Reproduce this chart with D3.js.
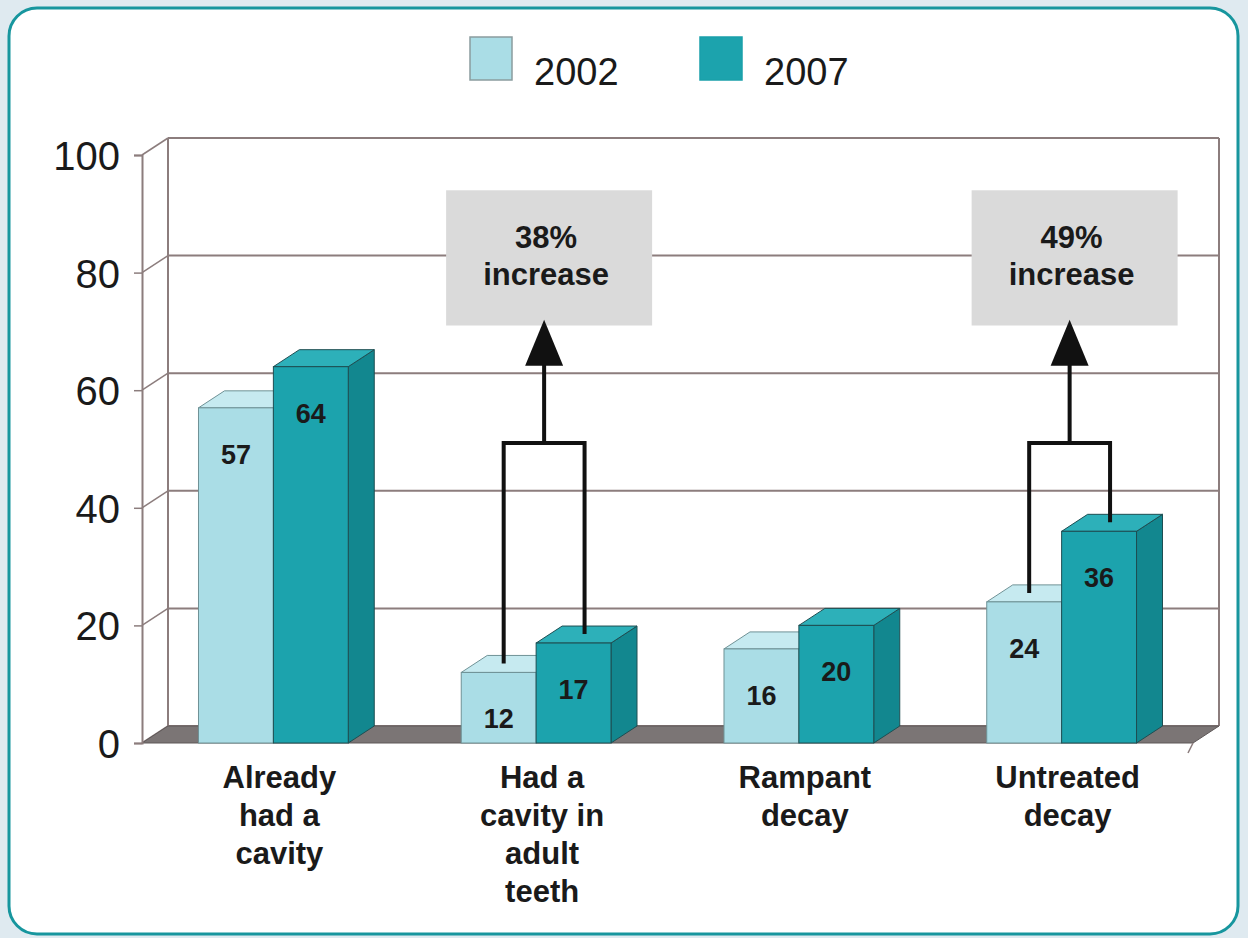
<!DOCTYPE html>
<html>
<head>
<meta charset="utf-8">
<script src="https://cdn.jsdelivr.net/npm/d3@7"></script>
<style>
  body { margin: 0; background: #dfeaf0; }
  svg { display: block; }
  text { font-family: "Liberation Sans", Arial, sans-serif; fill: #1a1a1a; }
</style>
</head>
<body>
<div id="chart"></div>
<script>
var categories = [["Already", "had a", "cavity"], ["Had a", "cavity in", "adult", "teeth"], ["Rampant", "decay"], ["Untreated", "decay"]];
var catKeys = categories.map(function(d) { return d.join(" "); });
var years = ["2002", "2007"];
var values2002 = [57, 12, 16, 24];
var values2007 = [64, 17, 20, 36];
var yTicks = [0, 20, 40, 60, 80, 100];
var notes = [{cat: 1, text: ["38%", "increase"]}, {cat: 3, text: ["49%", "increase"]}];

var W = 1248, H = 938;
var dx = 26, dy = -17;
var colors = {
  "2002": {front: "#aadde6", top: "#c6eaf0", side: "#8fcfd9", stroke: "#6f9296"},
  "2007": {front: "#1ca3ad", top: "#2db0b9", side: "#12878f", stroke: "#1e4e52"}
};

var svg = d3.select("#chart").append("svg")
  .attr("width", W).attr("height", H);

// card
svg.append("rect")
  .attr("x", 9).attr("y", 8).attr("width", 1229).attr("height", 926)
  .attr("rx", 28).attr("fill", "#fff")
  .attr("stroke", "#17969e").attr("stroke-width", 3);

var y = d3.scaleLinear().domain([0, 100]).range([743, 155]);
var x0 = d3.scaleBand().domain(catKeys).range([142, 1193])
  .paddingInner(0.43).paddingOuter(0.215);
var x1 = d3.scaleBand().domain(years).range([0, x0.bandwidth()]);

var gridColor = "#8c7d7d";

// back wall gridlines
var grid = svg.append("g");
grid.selectAll("line.back")
  .data(yTicks)
  .enter()
  .append("line")
    .attr("x1", 142 + dx).attr("x2", 1193 + dx)
    .attr("y1", function(d) { return y(d) + dy; })
    .attr("y2", function(d) { return y(d) + dy; })
    .attr("stroke", gridColor).attr("stroke-width", 2);
grid.selectAll("line.side")
  .data(yTicks)
  .enter()
  .append("line")
    .attr("x1", 142).attr("x2", 142 + dx)
    .attr("y1", function(d) { return y(d); })
    .attr("y2", function(d) { return y(d) + dy; })
    .attr("stroke", gridColor).attr("stroke-width", 1.5);
grid.append("line")
  .attr("x1", 142 + dx).attr("x2", 142 + dx)
  .attr("y1", y(100) + dy).attr("y2", y(0) + dy)
  .attr("stroke", gridColor).attr("stroke-width", 2);
grid.append("line")
  .attr("x1", 1193 + dx).attr("x2", 1193 + dx)
  .attr("y1", y(100) + dy).attr("y2", y(0) + dy)
  .attr("stroke", gridColor).attr("stroke-width", 2);

// floor
svg.append("path")
  .attr("d", "M142," + y(0) + "L1193," + y(0) + "L" + (1193 + dx) + "," + (y(0) + dy) +
    "L" + (142 + dx) + "," + (y(0) + dy) + "Z")
  .attr("fill", "#7b7575").attr("stroke", "#5e5858").attr("stroke-width", 1);

// front y axis
var yAxis = svg.append("g")
  .attr("transform", "translate(142,0)")
  .call(d3.axisLeft(y).tickValues(yTicks).tickSize(8).tickPadding(14));
yAxis.select(".domain").attr("stroke", gridColor).attr("stroke-width", 2);
yAxis.selectAll(".tick line").attr("stroke", gridColor).attr("stroke-width", 1.5);
yAxis.selectAll("text")
  .style("font-size", "40px").style("font-family", "Liberation Sans, Arial, sans-serif")
  .attr("fill", "#1a1a1a").attr("dy", "0.36em");

svg.append("line")
  .attr("x1", 1193).attr("x2", 1188).attr("y1", y(0)).attr("y2", y(0) + 10)
  .attr("stroke", gridColor).attr("stroke-width", 1.5);

// bars
var rows = [];
catKeys.forEach(function(c, i) {
  rows.push({cat: c, year: "2002", value: values2002[i]});
  rows.push({cat: c, year: "2007", value: values2007[i]});
});

var bars = svg.append("g");
rows.forEach(function(d) {
  var xl = x0(d.cat) + x1(d.year), xr = xl + x1.bandwidth();
  var yt = y(d.value), yb = y(0);
  var c = colors[d.year];
  var g = bars.append("g");
  g.append("path")
    .attr("d", "M" + xr + "," + yt + "L" + (xr + dx) + "," + (yt + dy) + "L" + (xr + dx) + "," + (yb + dy) +
      "L" + xr + "," + yb + "Z")
    .attr("fill", c.side).attr("stroke", c.stroke).attr("stroke-width", 1);
  g.append("path")
    .attr("d", "M" + xl + "," + yt + "L" + (xl + dx) + "," + (yt + dy) + "L" + (xr + dx) + "," + (yt + dy) +
      "L" + xr + "," + yt + "Z")
    .attr("fill", c.top).attr("stroke", c.stroke).attr("stroke-width", 1);
  g.append("rect")
    .attr("x", xl).attr("y", yt).attr("width", xr - xl).attr("height", yb - yt)
    .attr("fill", c.front).attr("stroke", c.stroke).attr("stroke-width", 1);
  g.append("text")
    .attr("x", (xl + xr) / 2).attr("y", yt + 56)
    .attr("text-anchor", "middle")
    .style("font-size", "27px").style("font-weight", "bold")
    .text(d.value);
});

// x labels
var xl = svg.append("g");
categories.forEach(function(lines, i) {
  var t = xl.append("text")
    .attr("x", x0(catKeys[i]) + x0.bandwidth() / 2 + 6)
    .attr("y", 788)
    .attr("text-anchor", "middle")
    .style("font-size", "31px").style("font-weight", "bold");
  lines.forEach(function(s, j) {
    t.append("tspan").attr("x", x0(catKeys[i]) + x0.bandwidth() / 2 + 6)
      .attr("dy", j === 0 ? 0 : 38).text(s);
  });
});

// legend
var legend = svg.append("g");
years.forEach(function(yr, i) {
  var lx = 470 + i * 230;
  legend.append("rect")
    .attr("x", lx).attr("y", 37).attr("width", 42).attr("height", 43)
    .attr("fill", colors[yr].front).attr("stroke", i === 0 ? "#8a9c9e" : "#1aa0aa").attr("stroke-width", 1.5);
  legend.append("text")
    .attr("x", lx + 64).attr("y", 85)
    .style("font-size", "38px")
    .text(yr);
});

// annotations: bracket, arrow, grey box
var ann = svg.append("g");
notes.forEach(function(n) {
  var c = catKeys[n.cat];
  var xa = x0(c) + x1("2002") + x1.bandwidth() / 2 + 5;
  var xb = x0(c) + x1("2007") + x1.bandwidth() / 2 + 11;
  var ya = y(values2002[n.cat]) - 9;
  var yb = y(values2007[n.cat]) - 9;
  var yBr = y(51);
  var xm = (xa + xb) / 2;
  var cx = x0(c) + x0.bandwidth() / 2 + dx / 2;

  ann.append("rect")
    .attr("x", cx - 103).attr("y", y(94)).attr("width", 206).attr("height", y(71) - y(94))
    .attr("fill", "#dadada");
  ann.append("path")
    .attr("d", "M" + xa + "," + ya + "L" + xa + "," + yBr + "L" + xb + "," + yBr + "L" + xb + "," + yb +
      "M" + xm + "," + yBr + "L" + xm + "," + (y(72) + 40))
    .attr("fill", "none").attr("stroke", "#111").attr("stroke-width", 4);
  ann.append("path")
    .attr("d", "M" + xm + "," + y(72) + "L" + (xm + 19) + "," + (y(72) + 46) + "L" + (xm - 19) + "," + (y(72) + 46) + "Z")
    .attr("fill", "#111");
  n.text.forEach(function(s, j) {
    ann.append("text")
      .attr("x", cx - 3).attr("y", 248 + j * 37)
      .attr("text-anchor", "middle")
      .style("font-size", "31px").style("font-weight", "bold")
      .text(s);
  });
});
</script>
</body>
</html>
